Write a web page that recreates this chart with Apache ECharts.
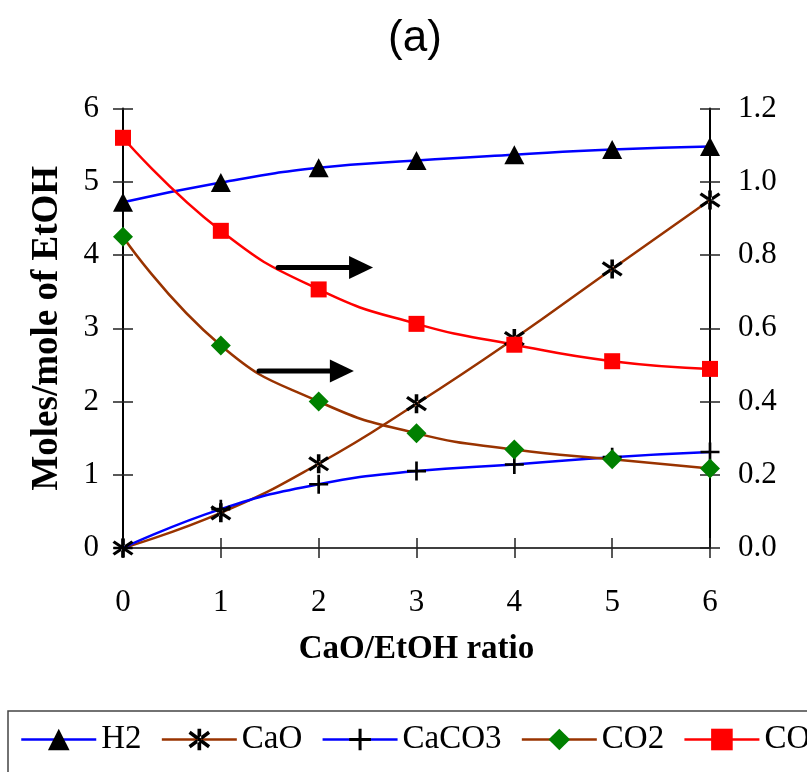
<!DOCTYPE html>
<html>
<head>
<meta charset="utf-8">
<script src="https://cdn.jsdelivr.net/npm/echarts@6/dist/echarts.min.js"></script>
<style>html,body{margin:0;padding:0;background:#fff;}#c{width:807px;height:772px;}</style>
</head>
<body>
<div id="c"></div>
<script>
// ---- data ----
var ratios = [0, 1, 2, 3, 4, 5, 6];
var h2 = [4.72, 4.99, 5.19, 5.29, 5.37, 5.44, 5.48];
var cao = [0, 0.48, 1.15, 1.97, 2.86, 3.81, 4.75];
var caco3 = [0, 0.53, 0.87, 1.05, 1.14, 1.24, 1.31];
var co2 = [0.85, 0.553, 0.40, 0.313, 0.269, 0.242, 0.217];   // right axis
var co = [1.12, 0.866, 0.706, 0.612, 0.555, 0.51, 0.489];    // right axis
var leftTicks = [0, 6, 1];
var rightTicks = [0, 1.2, 0.2];
// arrows (data coords on left axis): [xStart, xEnd, y]
var arrowCO = [1.585, 2.556, 3.83];
var arrowCO2 = [1.39, 2.36, 2.415];

function pairs(arr) { return ratios.map(function (x, i) { return [x, arr[i]]; }); }

var SERIF = '"Liberation Serif", "Times New Roman", serif';
var STAR = 'path://M8.4,0L11.6,0L11.6,20L8.4,20Z M0.6,4.6L2.4,2L19.4,15.4L17.6,18Z M19.4,4.6L17.6,2L0.6,15.4L2.4,18Z';
var PLUS = 'path://M8.6,0h2.8v20h-2.8z M0,8.6h20v2.8h-20z';

var chart = echarts.init(document.getElementById('c'), null, { renderer: 'canvas' });

function mkAxisY(pos, min, max, step, showLabel, inside, fmt) {
  return {
    type: 'value', position: pos, min: min, max: max, interval: step,
    axisLine: { show: showLabel, onZero: false, lineStyle: { color: '#000', width: 2 } },
    axisTick: { show: true, inside: inside, length: 10, lineStyle: { color: '#222', width: 1.5 } },
    axisLabel: { show: showLabel, fontFamily: SERIF, fontSize: 31, color: '#000', margin: pos === 'left' ? 24 : 28, formatter: fmt },
    splitLine: { show: false }
  };
}

var option = {
  animation: false,
  backgroundColor: '#fff',
  title: {
    text: '(a)', left: 410, top: 12, textAlign: 'center',
    textStyle: { fontFamily: '"Liberation Sans", Arial, sans-serif', fontSize: 44, fontWeight: 'normal', color: '#000' }
  },
  grid: { left: 123, right: 97, top: 108.5, bottom: 224, containLabel: false },
  legend: {
    left: 8, top: 711, width: 1200,
    padding: [12, 10, 22, 12],
    borderColor: '#444', borderWidth: 1.5,
    itemWidth: 75, itemHeight: 27, itemGap: 19,
    lineStyle: { width: 2.5 },
    textStyle: { fontFamily: SERIF, fontSize: 33, color: '#000' },
    data: ['H2', 'CaO', 'CaCO3', 'CO2', 'CO']
  },
  xAxis: [{
    type: 'value', min: 0, max: 6, interval: 1,
    name: 'CaO/EtOH ratio', nameLocation: 'middle', nameGap: 85,
    nameTextStyle: { fontFamily: SERIF, fontSize: 33, fontWeight: 'bold', color: '#000' },
    axisLine: { onZero: false, lineStyle: { color: '#000', width: 1.5 } },
    axisTick: { inside: false, length: 10, lineStyle: { color: '#222', width: 1.5 } },
    axisLabel: { fontFamily: SERIF, fontSize: 31, color: '#000', margin: 39 },
    splitLine: { show: false }
  }, {
    type: 'value', min: 0, max: 6, interval: 1, position: 'bottom',
    axisLine: { show: false, onZero: false },
    axisTick: { inside: true, length: 10, lineStyle: { color: '#222', width: 1.5 } },
    axisLabel: { show: false }, splitLine: { show: false }
  }],
  yAxis: [
    Object.assign(mkAxisY('left', leftTicks[0], leftTicks[1], leftTicks[2], true, false, function (v) { return String(v); }), {
      name: 'Moles/mole of EtOH', nameLocation: 'middle', nameGap: 57, nameRotate: 90,
      nameTextStyle: { fontFamily: SERIF, fontSize: 37, fontWeight: 'bold', color: '#000' }
    }),
    mkAxisY('right', rightTicks[0], rightTicks[1], rightTicks[2], true, false, function (v) { return v.toFixed(1); }),
    mkAxisY('left', leftTicks[0], leftTicks[1], leftTicks[2], false, true),
    mkAxisY('right', rightTicks[0], rightTicks[1], rightTicks[2], false, true)
  ],
  series: [
    { name: 'H2', type: 'line', yAxisIndex: 0, smooth: true, data: pairs(h2),
      symbol: 'triangle', symbolSize: [20, 19],
      lineStyle: { color: '#0000ff', width: 2.5 }, itemStyle: { color: '#000' } },
    { name: 'CaO', type: 'line', yAxisIndex: 0, smooth: true, data: pairs(cao),
      symbol: STAR, symbolSize: [21, 19],
      lineStyle: { color: '#993300', width: 2.5 }, itemStyle: { color: '#000' } },
    { name: 'CaCO3', type: 'line', yAxisIndex: 0, smooth: true, data: pairs(caco3),
      symbol: PLUS, symbolSize: 19,
      lineStyle: { color: '#0000ff', width: 2.5 }, itemStyle: { color: '#000' } },
    { name: 'CO2', type: 'line', yAxisIndex: 1, smooth: true, data: pairs(co2),
      symbol: 'diamond', symbolSize: 20,
      lineStyle: { color: '#993300', width: 2.5 }, itemStyle: { color: '#008000' } },
    { name: 'CO', type: 'line', yAxisIndex: 1, smooth: true, data: pairs(co),
      symbol: 'rect', symbolSize: 16,
      lineStyle: { color: '#ff0000', width: 2.5 }, itemStyle: { color: '#ff0000' } }
  ]
};
chart.setOption(option);

function arrowGraphic(a) {
  var p0 = chart.convertToPixel({ xAxisIndex: 0, yAxisIndex: 0 }, [a[0], a[2]]);
  var p1 = chart.convertToPixel({ xAxisIndex: 0, yAxisIndex: 0 }, [a[1], a[2]]);
  var headLen = 24, half = 11.5;
  return [
    { type: 'line', shape: { x1: p0[0], y1: p0[1], x2: p1[0] - headLen + 2, y2: p1[1] },
      style: { stroke: '#000', lineWidth: 5, lineCap: 'round' }, z: 10 },
    { type: 'polygon', shape: { points: [[p1[0] - headLen, p1[1] - half], [p1[0], p1[1]], [p1[0] - headLen, p1[1] + half]] },
      style: { fill: '#000' }, z: 10 }
  ];
}
chart.setOption({ graphic: arrowGraphic(arrowCO).concat(arrowGraphic(arrowCO2)) });
</script>
</body>
</html>
